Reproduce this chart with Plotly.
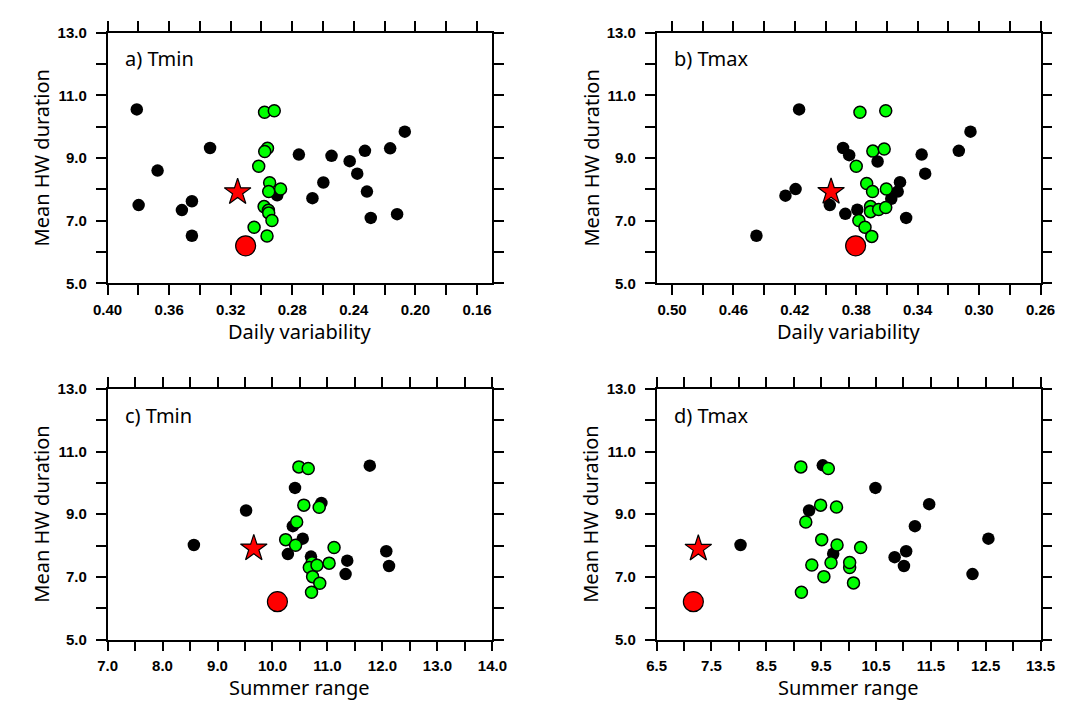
import plotly.graph_objects as go

W, H = 1065, 706

# ---------------- data ----------------
# panel a) Tmin vs daily variability
a_black_x = [0.381, 0.3334, 0.2757, 0.3675, 0.2898, 0.3798, 0.3452, 0.3517, 0.3452, 0.2545,
             0.2427, 0.2328, 0.2164, 0.2069, 0.2378, 0.2598, 0.2669, 0.2315, 0.2290, 0.2119]
a_black_y = [10.55, 9.32, 9.11, 8.60, 7.81, 7.50, 7.62, 7.34, 6.52, 9.07,
             8.90, 9.23, 9.31, 9.84, 8.50, 8.22, 7.72, 7.93, 7.09, 7.21]
a_green_x = [0.2980, 0.2917, 0.2961, 0.2979, 0.3018, 0.2947, 0.2953, 0.2876, 0.2983, 0.2955,
             0.2953, 0.2932, 0.3048, 0.2964]
a_green_y = [10.46, 10.51, 9.31, 9.21, 8.74, 8.21, 7.93, 8.01, 7.45, 7.33,
             7.25, 7.01, 6.79, 6.51]
a_star_x, a_star_y = [0.3155], [7.91]
a_obs_x, a_obs_y = [0.3103], [6.20]

# panel b) Tmax vs daily variability
b_black_x = [0.4172, 0.4261, 0.4195, 0.4450, 0.3056, 0.3886, 0.3846, 0.3661, 0.3374, 0.3132,
             0.3351, 0.3972, 0.3871, 0.3793, 0.3515, 0.3530, 0.3572, 0.3475]
b_black_y = [10.55, 7.80, 8.01, 6.52, 9.84, 9.32, 9.09, 8.89, 9.11, 9.23,
             8.50, 7.50, 7.22, 7.35, 8.23, 7.93, 7.70, 7.09]
b_green_x = [0.3776, 0.3608, 0.3692, 0.3618, 0.3800, 0.3732, 0.3694, 0.3604, 0.3707, 0.3707,
             0.3654, 0.3608, 0.3783, 0.3743, 0.3699]
b_green_y = [10.46, 10.51, 9.22, 9.29, 8.74, 8.19, 7.93, 8.01, 7.45, 7.29,
             7.36, 7.42, 7.01, 6.79, 6.50]
b_star_x, b_star_y = [0.3964], [7.92]
b_obs_x, b_obs_y = [0.3804], [6.20]

# panel c) Tmin vs summer range
c_black_x = [8.57, 9.52, 10.41, 11.77, 10.89, 10.37, 10.55, 10.28, 10.70, 11.36, 11.33, 12.07, 12.12]
c_black_y = [8.02, 9.12, 9.84, 10.55, 9.36, 8.62, 8.22, 7.73, 7.65, 7.52, 7.09, 7.82, 7.35]
c_green_x = [10.48, 10.65, 10.57, 10.85, 10.44, 10.24, 10.42, 10.72, 10.67, 10.81,
             10.73, 10.86, 10.71, 11.12, 11.03]
c_green_y = [10.51, 10.46, 9.29, 9.22, 8.75, 8.19, 8.01, 7.45, 7.30, 7.37,
             7.01, 6.80, 6.51, 7.94, 7.44]
c_star_x, c_star_y = [9.66], [7.91]
c_obs_x, c_obs_y = [10.09], [6.21]

# panel d) Tmax vs summer range
d_black_x = [8.03, 9.53, 9.28, 9.72, 10.49, 11.47, 11.21, 12.55, 11.05, 10.84, 11.01, 12.26]
d_black_y = [8.02, 10.56, 9.12, 7.74, 9.84, 9.32, 8.62, 8.22, 7.82, 7.63, 7.35, 7.09]
d_green_x = [9.13, 9.63, 9.49, 9.78, 9.22, 9.51, 9.79, 9.68, 9.33, 10.02,
             10.02, 9.55, 10.09, 9.14, 10.22]
d_green_y = [10.51, 10.46, 9.29, 9.23, 8.75, 8.19, 8.02, 7.45, 7.38, 7.30,
             7.46, 7.01, 6.81, 6.51, 7.94]
d_star_x, d_star_y = [7.26], [7.90]
d_obs_x, d_obs_y = [7.17], [6.21]

panel_titles = ["a) Tmin", "b) Tmax", "c) Tmin", "d) Tmax"]
x_titles = ["Daily variability", "Daily variability", "Summer range", "Summer range"]
y_title = "Mean HW duration"

x_ranges = [[0.40, 0.15], [0.51, 0.26], [7.0, 14.0], [6.5, 13.5]]
x_tickvals = [
    [0.40, 0.38, 0.36, 0.34, 0.32, 0.30, 0.28, 0.26, 0.24, 0.22, 0.20, 0.18, 0.16],
    [0.50, 0.48, 0.46, 0.44, 0.42, 0.40, 0.38, 0.36, 0.34, 0.32, 0.30, 0.28, 0.26],
    [7.0, 7.5, 8.0, 8.5, 9.0, 9.5, 10.0, 10.5, 11.0, 11.5, 12.0, 12.5, 13.0, 13.5, 14.0],
    [6.5, 7.0, 7.5, 8.0, 8.5, 9.0, 9.5, 10.0, 10.5, 11.0, 11.5, 12.0, 12.5, 13.0, 13.5],
]
x_ticktext = [
    ["0.40", "", "0.36", "", "0.32", "", "0.28", "", "0.24", "", "0.20", "", "0.16"],
    ["0.50", "", "0.46", "", "0.42", "", "0.38", "", "0.34", "", "0.30", "", "0.26"],
    ["7.0", "", "8.0", "", "9.0", "", "10.0", "", "11.0", "", "12.0", "", "13.0", "", "14.0"],
    ["6.5", "", "7.5", "", "8.5", "", "9.5", "", "10.5", "", "11.5", "", "12.5", "", "13.5"],
]
y_range = [5.0, 13.0]
y_tickvals = [5, 6, 7, 8, 9, 10, 11, 12, 13]
y_ticktext = ["5.0", "", "7.0", "", "9.0", "", "11.0", "", "13.0"]

panels = [
    (a_black_x, a_black_y, a_green_x, a_green_y, a_star_x, a_star_y, a_obs_x, a_obs_y),
    (b_black_x, b_black_y, b_green_x, b_green_y, b_star_x, b_star_y, b_obs_x, b_obs_y),
    (c_black_x, c_black_y, c_green_x, c_green_y, c_star_x, c_star_y, c_obs_x, c_obs_y),
    (d_black_x, d_black_y, d_green_x, d_green_y, d_star_x, d_star_y, d_obs_x, d_obs_y),
]

# ---------------- layout geometry (pixels) ----------------
frames = [  # left, right, top, bottom
    (87, 483, 16, 273),
    (652, 1047, 16, 273),
    (87, 483, 381, 638),
    (652, 1047, 381, 638),
]

TICK_FONT = dict(family="Liberation Sans", size=15, color="black", weight="bold")
TEXT_FONT = dict(family="Noto Sans", size=20, color="black")

fig = go.Figure()
annotations = []

for i, (data, fr) in enumerate(zip(panels, frames)):
    n = i + 1
    xa = "x" if n == 1 else f"x{n}"
    ya = "y" if n == 1 else f"y{n}"
    bx, by, gx, gy, sx, sy, ox, oy = data
    fig.add_trace(go.Scatter(x=bx, y=by, mode="markers", xaxis=xa, yaxis=ya,
                             marker=dict(color="black", size=12.5, line=dict(width=0)),
                             showlegend=False, hoverinfo="skip"))
    fig.add_trace(go.Scatter(x=gx, y=gy, mode="markers", xaxis=xa, yaxis=ya,
                             marker=dict(color="#00FF00", size=12, line=dict(color="black", width=1.5)),
                             showlegend=False, hoverinfo="skip"))
    fig.add_trace(go.Scatter(x=sx, y=sy, mode="markers", xaxis=xa, yaxis=ya,
                             marker=dict(symbol="star", color="#FF0000", size=20,
                                         line=dict(color="black", width=1.2)),
                             showlegend=False, hoverinfo="skip"))
    fig.add_trace(go.Scatter(x=ox, y=oy, mode="markers", xaxis=xa, yaxis=ya,
                             marker=dict(color="#FF0000", size=20, line=dict(color="black", width=1.2)),
                             showlegend=False, hoverinfo="skip"))

    l, r, t, b = fr
    common = dict(showline=True, linecolor="black", linewidth=1.5, mirror="ticks",
                  ticks="outside", ticklen=10, tickwidth=1.5, tickcolor="black",
                  showgrid=False, zeroline=False, tickfont=TICK_FONT, fixedrange=True)
    fig.update_layout(**{
        ("xaxis" if n == 1 else f"xaxis{n}"): dict(
            domain=[l / W, r / W], range=x_ranges[i], anchor=ya,
            tickmode="array", tickvals=x_tickvals[i], ticktext=x_ticktext[i],
            ticklabelstandoff=2, **common),
        ("yaxis" if n == 1 else f"yaxis{n}"): dict(
            domain=[1 - b / H, 1 - t / H], range=y_range, anchor=xa,
            tickmode="array", tickvals=y_tickvals, ticktext=y_ticktext,
            ticklabelstandoff=6, **common),
    })

    annotations.append(dict(text=panel_titles[i], xref="paper", yref="paper",
                            x=(l + 16) / W, y=1 - (t + 27) / H, xanchor="left", yanchor="middle",
                            showarrow=False, font=TEXT_FONT))
    annotations.append(dict(text=x_titles[i], xref="paper", yref="paper",
                            x=(l + r) / 2 / W, y=1 - (b + 49) / H, xanchor="center", yanchor="middle",
                            showarrow=False, font=TEXT_FONT))
    annotations.append(dict(text=y_title, xref="paper", yref="paper", textangle=-90,
                            x=(l - 68) / W, y=1 - (t + b) / 2 / H, xanchor="center", yanchor="middle",
                            showarrow=False, font=TEXT_FONT))

fig.update_layout(width=W, height=H, margin=dict(l=0, r=0, t=0, b=0),
                  paper_bgcolor="white", plot_bgcolor="white",
                  annotations=annotations)

fig.write_html("out.html")
